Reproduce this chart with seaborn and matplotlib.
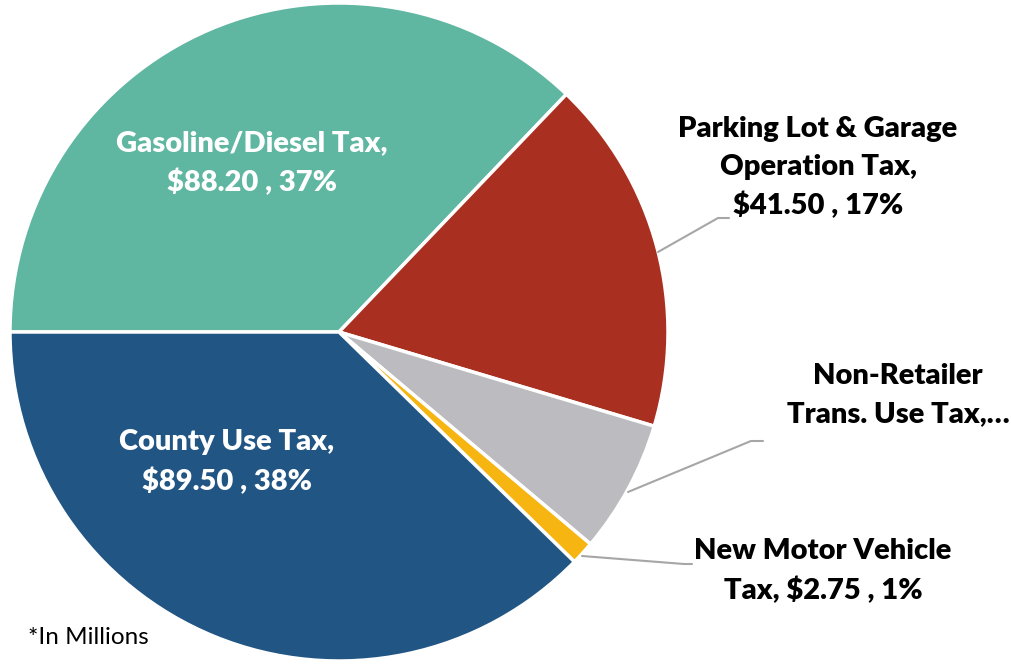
import matplotlib
matplotlib.use("Agg")
import matplotlib.pyplot as plt
import seaborn as sns

# ---- data ----
categories = ["Gasoline/Diesel Tax", "Parking Lot & Garage Operation Tax",
              "Non-Retailer Trans. Use Tax", "New Motor Vehicle Tax", "County Use Tax"]
values = [88.20, 41.50, 15.50, 2.75, 89.50]
label_texts = [
    "Gasoline/Diesel Tax,\n$88.20 , 37%",
    "Parking Lot & Garage\nOperation Tax,\n$41.50 , 17%",
    "Non-Retailer\nTrans. Use Tax,…",
    "New Motor Vehicle\nTax, $2.75 , 1%",
    "County Use Tax,\n$89.50 , 38%",
]
colors_hex = ["#5FB6A1", "#A93021", "#BCBCC0", "#F7B512", "#215584"]
note = "*In Millions"

sns.set_theme(style="white")
plt.rcParams['font.family'] = ['Lato', 'DejaVu Sans']
palette = sns.color_palette(colors_hex)

W, H = 1011, 665
fig = plt.figure(figsize=(W / 100, H / 100), dpi=100)
ax = fig.add_axes([0, 0, 1, 1])

def py(y):
    return H - y

cx, cy, r = 339, 332, 329
ax.pie(values, colors=palette, startangle=180, counterclock=False,
       center=(cx, py(cy)), radius=r, frame=True,
       wedgeprops=dict(edgecolor="white", linewidth=2.5))
ax.set_xlim(0, W)
ax.set_ylim(0, H)
ax.set_aspect("equal")
ax.axis("off")

fs = 21
label_pos = [(252, 163), (818, 168), (898, 395), (823, 571), (227, 462)]
label_col = ["white", "black", "black", "black", "white"]
for txt, (x, y), c in zip(label_texts, label_pos, label_col):
    ax.text(x, py(y), txt, ha="center", va="center", fontsize=fs,
            fontweight="heavy", color=c, linespacing=1.55)

leaders = [
    [(658, 252), (718, 218), (729, 218)],
    [(628, 492), (751, 441), (763, 441)],
    [(582, 556), (684, 564), (692, 564)],
]
for pts in leaders:
    xs = [p[0] for p in pts]
    ys = [py(p[1]) for p in pts]
    ax.plot(xs, ys, color="#A6A6A6", linewidth=1.5)

ax.text(28, py(637), note, ha="left", va="center", fontsize=17.5, color="black")

fig.savefig("out.png", dpi=100)
